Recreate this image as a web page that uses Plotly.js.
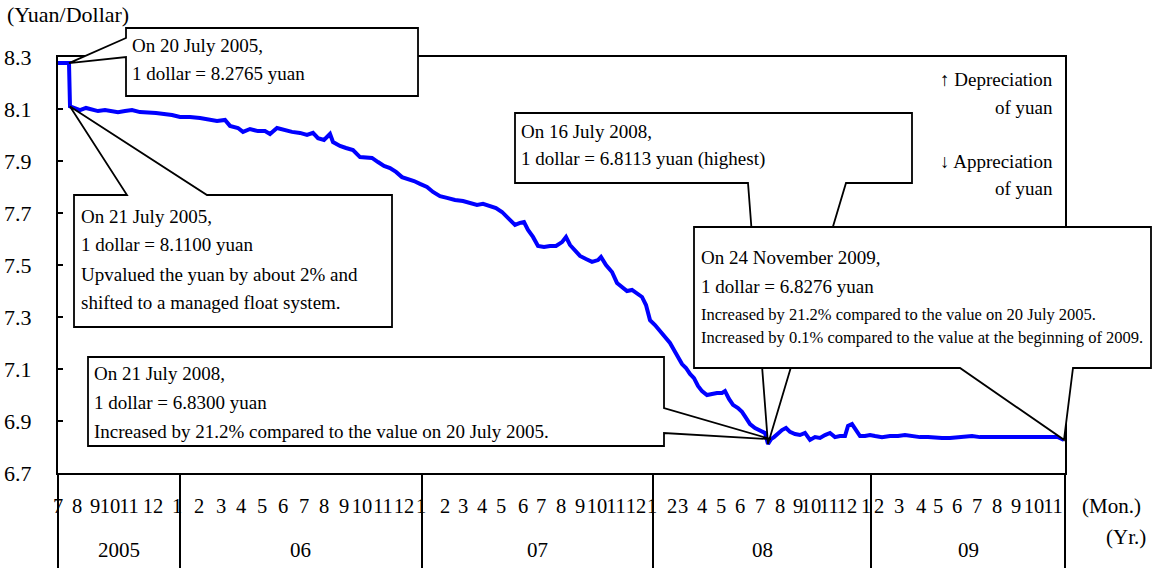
<!DOCTYPE html>
<html>
<head>
<meta charset="utf-8">
<script src="https://cdn.plot.ly/plotly-3.0.1.min.js"></script>
<style>html,body{margin:0;padding:0;background:#fff;}#chart{width:1152px;height:574px;}</style>
</head>
<body>
<div id="chart"></div>
<script>
// ---- data (x = position on the trading-day category axis, 0 = start of July 2005) ----
const obsIdx = [
  0, 11, 12, 17, 22, 28, 34, 40, 47, 54,
  60, 67, 74, 82, 90, 98, 106, 114, 122, 132,
  142, 152, 159, 167, 172, 180, 185, 192, 200, 207,
  212, 219, 227, 234, 242, 249, 255, 260, 266, 272,
  275, 282, 288, 295, 302, 308, 314, 320, 326, 332,
  338, 344, 350, 356, 362, 369, 375, 382, 389, 397,
  405, 412, 419, 425, 432, 438, 444, 449, 453, 457,
  462, 466, 470, 475, 480, 486, 492, 498, 504, 508,
  512, 517, 522, 528, 534, 540, 543, 548, 554, 559,
  564, 569, 574, 579, 584, 588, 592, 597, 602, 607,
  612, 616, 620, 624, 628, 632, 636, 640, 644, 649,
  654, 659, 664, 667, 671, 675, 680, 684, 688, 692,
  697, 702, 707, 710, 713, 716, 720, 724, 728, 732,
  737, 742, 747, 752, 757, 762, 767, 772, 777, 782,
  787, 790, 794, 798, 802, 807, 812, 817, 824, 832,
  840, 847, 854, 862, 870, 877, 884, 892, 900, 907,
  914, 922, 932, 942, 952, 962, 972, 982, 992, 1000,
  1006
];
const rate = [
  8.2765, 8.2765, 8.1100, 8.104, 8.096, 8.104, 8.096, 8.092, 8.096, 8.092,
  8.088, 8.092, 8.096, 8.088, 8.088, 8.085, 8.081, 8.077, 8.069, 8.069,
  8.065, 8.058, 8.054, 8.058, 8.035, 8.027, 8.012, 8.023, 8.015, 8.015,
  8.004, 8.027, 8.019, 8.012, 8.008, 8.000, 8.008, 7.988, 7.981, 8.004,
  7.973, 7.958, 7.950, 7.942, 7.915, 7.912, 7.912, 7.896, 7.881, 7.873,
  7.858, 7.838, 7.831, 7.823, 7.812, 7.800, 7.781, 7.765, 7.758, 7.750,
  7.746, 7.738, 7.731, 7.735, 7.727, 7.719, 7.704, 7.685, 7.665, 7.654,
  7.662, 7.665, 7.635, 7.608, 7.573, 7.569, 7.573, 7.573, 7.588, 7.608,
  7.577, 7.558, 7.535, 7.523, 7.512, 7.519, 7.531, 7.500, 7.473, 7.431,
  7.415, 7.400, 7.404, 7.392, 7.377, 7.346, 7.288, 7.269, 7.246, 7.227,
  7.200, 7.173, 7.142, 7.119, 7.104, 7.081, 7.065, 7.035, 7.015, 7.000,
  7.004, 7.008, 7.008, 7.015, 6.985, 6.962, 6.950, 6.935, 6.912, 6.888,
  6.873, 6.865, 6.854, 6.8113, 6.830, 6.838, 6.854, 6.865, 6.873, 6.858,
  6.850, 6.846, 6.854, 6.827, 6.838, 6.835, 6.846, 6.854, 6.838, 6.842,
  6.842, 6.881, 6.888, 6.865, 6.842, 6.842, 6.846, 6.842, 6.838, 6.842,
  6.842, 6.846, 6.842, 6.838, 6.838, 6.835, 6.835, 6.835, 6.838, 6.842,
  6.842, 6.838, 6.838, 6.838, 6.838, 6.838, 6.838, 6.838, 6.835, 6.838,
  6.8276
];

// month tick labels on the category axis
const monthTickPos = [
  0, 19, 37, 52, 71, 95,
  119, 141, 163, 183, 204, 225, 246, 266, 286, 304, 325, 346,
  363, 387, 405, 424, 443, 465, 483, 503, 522, 539, 558, 578,
  594, 614, 625, 644, 663, 682, 702, 722, 740, 753, 771, 789,
  808, 821, 841, 863, 880, 899, 919, 939, 958, 976, 995
];
const monthTickText = [
  '7','8','9','10','11','12',
  '1','2','3','4','5','6','7','8','9','10','11','12',
  '1','2','3','4','5','6','7','8','9','10','11','12',
  '1','2','3','4','5','6','7','8','9','10','11','12',
  '1','2','3','4','5','6','7','8','9','10','11'
];
const yearSepPos = [0, 122, 364, 595, 813, 1007];
const yearLabels = ['2005', '06', '07', '08', '09'];
const yearLabelPos = [61, 242, 479, 704, 910];
const yTickVals = [6.7, 6.9, 7.1, 7.3, 7.5, 7.7, 7.9, 8.1, 8.3];

// highlighted points for the callouts [index, value]
const pt20Jul2005 = [11, 8.2765];
const pt21Jul2005 = [12, 8.1100];
const pt16Jul2008 = [710, 6.8113];
const pt21Jul2008 = [713, 6.8300];
const pt24Nov2009 = [1006, 6.8276];

// ---- layout helpers ----
const XMAX = 1007, YMIN = 6.7, YMAX = 8.3;
const L = 58, T = 57, W = 1007, H = 416;
const SERIF = '"Liberation Serif", "Times New Roman", Times, serif';
const PX = x => (x - L) / W;               // pixel -> paper
const PY = y => (T + H - y) / H;
const DX = i => i / XMAX;                   // data -> paper
const DY = v => (v - YMIN) / (YMAX - YMIN);

function callout(pts) {
  let d = 'M ' + pts.map(p => p[0].toFixed(5) + ',' + p[1].toFixed(5)).join(' L ') + ' Z';
  return {type: 'path', xref: 'paper', yref: 'paper', path: d, fillcolor: 'white',
          line: {color: 'black', width: 1.8}, layer: 'above'};
}
const P = (x, y) => [PX(x), PY(y)];
const D = pt => [DX(pt[0]), DY(pt[1])];

const shapes = [];
yearSepPos.forEach(p => shapes.push({type: 'line', xref: 'paper', yref: 'paper',
  x0: DX(p), x1: DX(p), y0: 0, y1: PY(568), line: {color: 'black', width: 2}}));

shapes.push(callout([P(126,28), P(418,28), P(418,96), P(126,96), P(126,57), D(pt20Jul2005), P(126,38)]));
shapes.push(callout([P(74,195), P(127,195), D(pt21Jul2005), P(207,195), P(392,195), P(392,327), P(74,327)]));
shapes.push(callout([P(515,113), P(912,113), P(912,183), P(846,183), D(pt16Jul2008), P(748,183), P(515,183)]));
shapes.push(callout([P(694,227), P(1151,227), P(1151,368), P(1073,368), D(pt24Nov2009), P(960,368), P(694,368)]));
shapes.push(callout([P(88,357), P(664,357), P(664,408), D(pt21Jul2008), P(664,433), P(664,446), P(88,446)]));

const ann = [];
function txt(x, y, text, size, xanchor) {
  const a = xanchor || 'left';
  const dx = a === 'left' ? -3 : (a === 'right' ? 3 : 0);
  ann.push({xref: 'paper', yref: 'paper', x: PX(x + dx), y: PY(y), text: text, showarrow: false,
    xanchor: a, yanchor: 'middle', align: a === 'right' ? 'right' : 'left',
    font: {family: SERIF, size: size, color: 'black'}});
}
txt(8, 15, '(Yuan/Dollar)', 22);
txt(133, 46, 'On 20 July 2005,', 19);
txt(133, 74, '1 dollar = 8.2765 yuan', 19);
txt(82, 216, 'On 21 July 2005,', 19);
txt(82, 245, '1 dollar = 8.1100 yuan', 19);
txt(82, 274, 'Upvalued the yuan by about 2% and', 19);
txt(82, 302, 'shifted to a managed float system.', 19);
txt(522, 131, 'On 16 July 2008,', 19);
txt(522, 159, '1 dollar = 6.8113 yuan (highest)', 19);
txt(702, 257, 'On 24 November 2009,', 19);
txt(702, 286, '1 dollar = 6.8276 yuan', 19);
txt(702, 314, 'Increased by 21.2% compared to the value on 20 July 2005.', 16.5);
txt(702, 337, 'Increased by 0.1% compared to the value at the beginning of 2009.', 16.5);
txt(95, 373, 'On 21 July 2008,', 19);
txt(95, 402, '1 dollar = 6.8300 yuan', 19);
txt(95, 431, 'Increased by 21.2% compared to the value on 20 July 2005.', 19);
txt(1052, 79, '↑ Depreciation', 19, 'right');
txt(1052, 107, 'of yuan', 19, 'right');
txt(1052, 161, '↓ Appreciation', 19, 'right');
txt(1052, 188, 'of yuan', 19, 'right');
txt(1111, 506, '(Mon.)', 21, 'center');
txt(1145, 537, '(Yr.)', 21, 'right');
yearLabels.forEach((t, i) => ann.push({xref: 'x', yref: 'paper', x: yearLabelPos[i], y: PY(550),
  text: t, showarrow: false, xanchor: 'center', yanchor: 'middle',
  font: {family: SERIF, size: 21, color: 'black'}}));

const trace = {x: obsIdx, y: rate, type: 'scatter', mode: 'lines',
  line: {color: '#0000FF', width: 4}, hoverinfo: 'skip'};

const layout = {
  width: 1152, height: 574,
  margin: {l: L, r: 1152 - L - W, t: T, b: 574 - T - H, pad: 0},
  paper_bgcolor: 'white', plot_bgcolor: 'white', showlegend: false,
  font: {family: SERIF, size: 21, color: 'black'},
  xaxis: {type: 'linear', range: [0, XMAX], showgrid: false, zeroline: false,
    showline: true, mirror: true, linecolor: 'black', linewidth: 2,
    tickmode: 'array', tickvals: monthTickPos, ticktext: monthTickText,
    ticks: 'outside', ticklen: 13, tickcolor: 'rgba(0,0,0,0)', tickangle: 0,
    tickfont: {family: SERIF, size: 20.5, color: 'black'}},
  yaxis: {range: [YMIN, YMAX], showgrid: false, zeroline: false,
    showline: true, mirror: true, linecolor: 'black', linewidth: 2,
    tickmode: 'array', tickvals: yTickVals, tickformat: '.1f',
    ticks: 'inside', ticklen: 5, tickwidth: 2, tickcolor: 'black',
    ticklabelstandoff: 20,
    tickfont: {family: SERIF, size: 22, color: 'black'}},
  shapes: shapes, annotations: ann
};
Plotly.newPlot('chart', [trace], layout, {staticPlot: true, displayModeBar: false});
</script>
</body>
</html>
